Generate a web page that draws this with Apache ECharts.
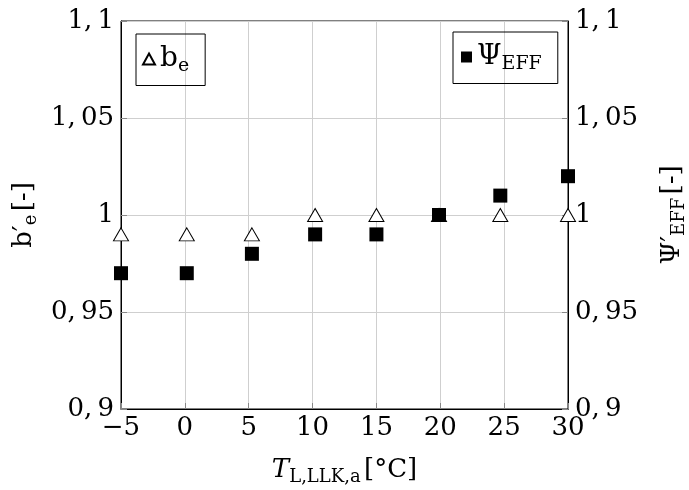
<!DOCTYPE html>
<html>
<head>
<meta charset="utf-8">
<script src="https://cdn.jsdelivr.net/npm/echarts@6/dist/echarts.min.js"></script>
<style>
  html, body { margin: 0; padding: 0; background: #fff; }
</style>
</head>
<body>
<div id="myChart" style="width: 689px; height: 490px;"></div>
<script>
  // temperatures
  let temps = [-5, 0.15, 5.25, 10.2, 15, 19.9, 24.7, 30];
  let beData = [0.99, 0.99, 0.99, 1.0, 1.0, 1.0, 1.0, 1.0];
  let psiData = [0.97, 0.97, 0.98, 0.99, 0.99, 1.0, 1.01, 1.02];
  let yTicks = [0.9, 0.95, 1, 1.05, 1.1];

  const FONT = 'DejaVu Serif';

  function fmtComma(v) {
    // decimal comma like the LaTeX plot: "1, 05"
    let s = String(Math.round(v * 100) / 100);
    return s.replace('.', ',\u2009');
  }
  function fmtX(v) {
    return v < 0 ? '\u2212' + Math.abs(v) : String(v);
  }

  let myChart = echarts.init(document.getElementById('myChart'));

  let yCommon = {
    type: 'value',
    min: yTicks[0],
    max: yTicks[yTicks.length - 1],
    interval: 0.05,
    nameLocation: 'middle',
    nameRotate: 90,
    axisLine: { show: true, onZero: false, lineStyle: { color: '#000', width: 1 } },
    axisTick: { show: true, inside: true, length: 6, lineStyle: { color: '#888' } },
    axisLabel: { fontFamily: FONT, fontSize: 26, color: '#000', margin: 7, formatter: fmtComma },
    splitLine: { show: false }
  };

  let nameRich = {
    m: { fontFamily: FONT, fontSize: 26, color: '#000' },
    i: { fontFamily: FONT, fontSize: 26, fontStyle: 'italic', color: '#000' },
    s: { fontFamily: FONT, fontSize: 18, color: '#000', padding: [13, 0, 0, 0] },
    n: { fontFamily: FONT, fontSize: 26, color: '#000' }
  };
  let legendRich = {
    m: { fontFamily: FONT, fontSize: 28, color: '#000' },
    s: { fontFamily: FONT, fontSize: 19, color: '#000', padding: [14, 0, 0, 0] }
  };

  let options = {
    animation: false,
    grid: {
      left: 121, right: 121, top: 21, bottom: 81,
      outerBoundsMode: 'none',
      show: true, borderColor: '#000', borderWidth: 1
    },
    legend: [
      {
        data: ['be'],
        left: 136, top: 34,
        padding: [11, 16, 10, 6],
        borderColor: '#000', borderWidth: 1, borderRadius: 0,
        itemWidth: 12, itemHeight: 11, itemGap: 4,
        formatter: function () { return '{m|b}{s|e}'; },
        textStyle: { rich: legendRich }
      },
      {
        data: ['psi'],
        left: 453, top: 32,
        padding: [11, 16, 10, 8],
        borderColor: '#000', borderWidth: 1, borderRadius: 0,
        itemWidth: 11, itemHeight: 11, itemGap: 4,
        formatter: function () { return '{m|\u03A8}{s|EFF}'; },
        textStyle: { rich: legendRich }
      }
    ],
    xAxis: {
      type: 'value',
      min: -5,
      max: 30,
      interval: 5,
      name: '{i|T}{s|L,LLK,a} {n|[°C]}',
      nameLocation: 'middle',
      nameGap: 46,
      nameTextStyle: { rich: nameRich },
      axisLine: { show: true, onZero: false, lineStyle: { color: '#000', width: 1 } },
      axisTick: { show: true, inside: true, length: 6, lineStyle: { color: '#888' } },
      axisLabel: { fontFamily: FONT, fontSize: 26, color: '#000', margin: 6, formatter: fmtX },
      splitLine: { show: true, lineStyle: { color: '#cfcfcf', width: 1 } }
    },
    yAxis: [
      Object.assign({}, yCommon, {
        position: 'left',
        name: '{m|b\u2032}{s|e} {n|[-]}',
        nameGap: 81,
        nameTextStyle: { rich: nameRich },
        splitLine: { show: true, lineStyle: { color: '#cfcfcf', width: 1 } }
      }),
      Object.assign({}, yCommon, {
        position: 'right',
        name: '{m|\u03A8\u2032}{s|EFF} {n|[-]}',
        nameGap: 89,
        nameTextStyle: { rich: nameRich }
      })
    ],
    series: [
      {
        name: 'be',
        type: 'scatter',
        yAxisIndex: 0,
        symbol: 'triangle',
        symbolSize: [15, 13],
        clip: false,
        itemStyle: { color: '#fff', borderColor: '#000', borderWidth: 1, opacity: 1 },
        data: temps.map((t, i) => [t, beData[i]])
      },
      {
        name: 'psi',
        type: 'scatter',
        yAxisIndex: 1,
        symbol: 'rect',
        symbolSize: 14,
        clip: false,
        itemStyle: { color: '#000', opacity: 1 },
        data: temps.map((t, i) => [t, psiData[i]])
      }
    ]
  };
  myChart.setOption(options);
</script>
</body>
</html>
